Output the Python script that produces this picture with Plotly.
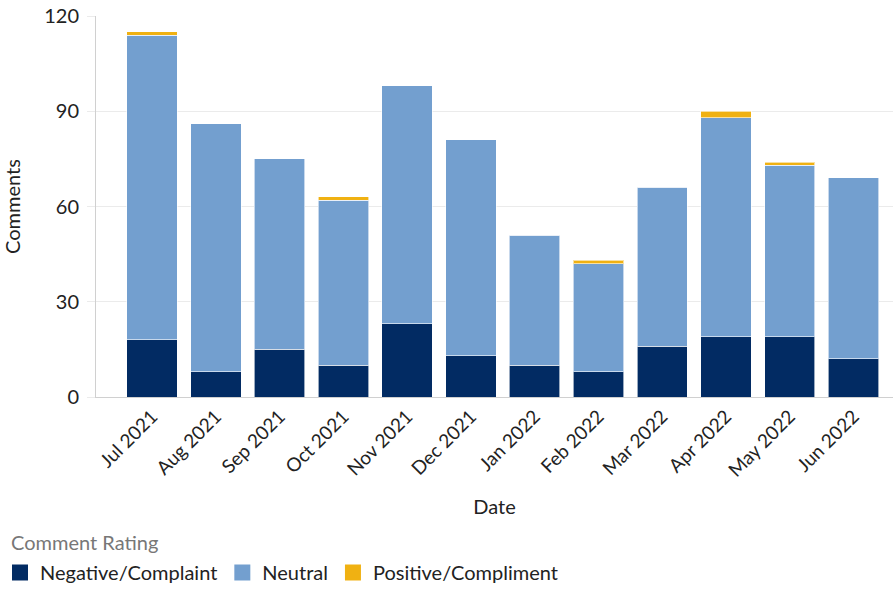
import plotly.graph_objects as go

months = ["Jul 2021", "Aug 2021", "Sep 2021", "Oct 2021", "Nov 2021", "Dec 2021",
          "Jan 2022", "Feb 2022", "Mar 2022", "Apr 2022", "May 2022", "Jun 2022"]
negative = [18, 8, 15, 10, 23, 13, 10, 8, 16, 19, 19, 12]
neutral = [96, 78, 60, 52, 75, 68, 41, 34, 50, 69, 54, 57]
positive = [1, 0, 0, 1, 0, 0, 0, 1, 0, 2, 1, 0]

series = [
    ("Negative/Complaint", negative, "#022b63"),
    ("Neutral", neutral, "#739fcf"),
    ("Positive/Compliment", positive, "#f0b112"),
]

fig = go.Figure()
for name, vals, color in series:
    fig.add_trace(go.Bar(
        x=months, y=vals, name=name, showlegend=False,
        marker=dict(color=color, line=dict(color="rgba(255,255,255,0.6)", width=1)),
    ))
# legend entries with larger square swatches
for name, vals, color in series:
    fig.add_trace(go.Scatter(
        x=[None], y=[None], mode="markers", name=name,
        marker=dict(symbol="square", size=20, color=color),
    ))

fig.add_annotation(
    text="Comment Rating", xref="paper", yref="paper",
    x=-0.1095, y=-0.38, xanchor="left", yanchor="middle",
    showarrow=False, font=dict(family="Lato", size=20, color="#777777"),
)

fig.update_layout(
    barmode="stack",
    bargap=0.21,
    width=896, height=592,
    margin=dict(l=96, r=3, t=16, b=195),
    paper_bgcolor="white", plot_bgcolor="white",
    font=dict(family="Lato", size=20, color="#222222"),
    xaxis=dict(
        title=dict(text="Date", font=dict(size=20), standoff=20),
        tickangle=-45,
        tickfont=dict(size=19),
        range=[-0.88, 11.62],
        showline=True, linecolor="#d0d0d0", linewidth=1,
        ticks="", showgrid=False,
        automargin=False,
    ),
    yaxis=dict(
        title=dict(text="Comments", font=dict(size=20), standoff=19),
        range=[0, 120],
        tickvals=[0, 30, 60, 90, 120],
        tickfont=dict(size=20),
        showline=True, linecolor="#d0d0d0", linewidth=1,
        gridcolor="#ebebeb", gridwidth=1,
        ticks="outside", ticklen=8, tickcolor="#ebebeb",
        ticklabelstandoff=4,
        zeroline=False,
        automargin=False,
    ),
    legend=dict(
        orientation="h",
        xref="container", yref="container",
        x=0.0, xanchor="left",
        y=0.0, yanchor="bottom",
        font=dict(size=20),
        traceorder="normal",
        itemwidth=30,
        tracegroupgap=0,
    ),
)

fig.write_html("out.html")
